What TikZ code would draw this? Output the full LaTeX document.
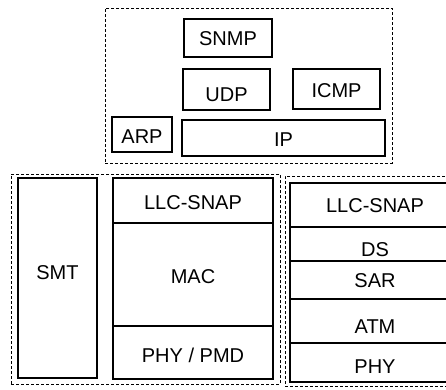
\documentclass[tikz,border=0pt]{standalone}
\usepackage{fontspec}
\setmainfont{Liberation Sans}
\begin{document}
\begin{tikzpicture}[x=1pt,y=-1pt,
  layer/.style={draw, line width=1.1pt, rectangle, inner sep=0pt, outer sep=0pt,
    anchor=north west, font=\fontsize{20}{24}\selectfont, text height=14.3pt, text depth=0pt},
  group/.style={draw, line width=0.9pt, dash pattern=on 3pt off 2pt, rectangle,
    inner sep=0pt, outer sep=0pt, anchor=north west},
  down/.style={text height=14.3pt+2*#1}
]
\useasboundingbox (0,0) rectangle (446,389);

% protocol stack above the link layers
\node[group, minimum width=287pt, minimum height=155pt] (upper) at (105,8) {};
\node[layer, minimum width=88pt, minimum height=38pt] (snmp) at (184,19) {SNMP};
\node[layer, minimum width=87pt, minimum height=41pt, down=5pt] (udp) at (183,69) {UDP};
\node[layer, minimum width=87pt, minimum height=40pt, down=1pt] (icmp) at (293,69) {ICMP};
\node[layer, minimum width=60pt, minimum height=35pt, down=1.5pt] (arp) at (112,117) {ARP};
\node[layer, minimum width=203pt, minimum height=36pt, down=1pt] (ip) at (182,120) {IP};

% FDDI side
\node[group, minimum width=269pt, minimum height=210pt] (fddi) at (11,174) {};
\node[layer, minimum width=79pt, minimum height=200pt, down=-6pt] (smt) at (18,178) {SMT};
\node[layer, minimum width=160pt, minimum height=45pt, down=1.5pt] (llcL) at (113,178) {LLC-SNAP};
\node[layer, minimum width=160pt, minimum height=103pt, down=2pt] (mac) at (113,223) {MAC};
\node[layer, minimum width=160pt, minimum height=53pt, down=2.5pt] (pmd) at (113,326) {PHY / PMD};

% ATM side
\node[group, minimum width=175pt, minimum height=210pt] (atmside) at (285,176) {};
\node[layer, minimum width=170pt, minimum height=44pt] (llcR) at (290,183) {LLC-SNAP};
\node[layer, minimum width=170pt, minimum height=34pt, down=5pt] (ds) at (290,227) {DS};
\node[layer, minimum width=170pt, minimum height=38pt] (sar) at (290,261) {SAR};
\node[layer, minimum width=170pt, minimum height=44pt, down=5pt] (atm) at (290,299) {ATM};
\node[layer, minimum width=170pt, minimum height=39pt, down=3.5pt] (phy) at (290,343) {PHY};
\end{tikzpicture}
\end{document}
